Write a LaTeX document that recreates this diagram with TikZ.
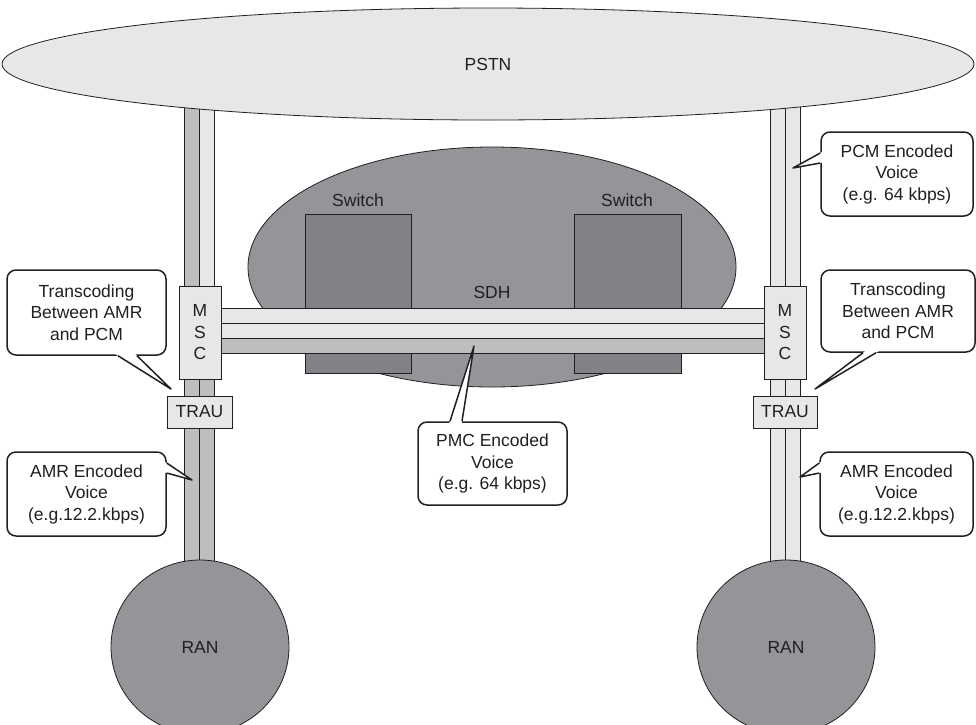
\documentclass[tikz,border=0pt]{standalone}
\usepackage{fontspec}
\setmainfont{Liberation Sans}
\usetikzlibrary{calc,shapes.geometric}
\definecolor{lite}{HTML}{E6E7E8}
\definecolor{mid}{HTML}{BCBEC0}
\definecolor{dk}{HTML}{939598}
\definecolor{sw}{HTML}{808285}
\definecolor{ink}{HTML}{231F20}
\newcommand\callwedge[3]{%
  \fill[white] ($(#3)!1.1!(#1)$) -- (#3) -- ($(#3)!1.1!(#2)$) -- cycle;
  \draw[wedge] (#1) -- (#3) -- (#2);}
\begin{document}
\begin{tikzpicture}[x=1pt,y=-1pt,
  font=\fontsize{17.5}{21.5}\selectfont, text=ink,
  strip/.style={draw=ink, line width=0.8pt},
  shape box/.style={draw=ink, line width=0.8pt, fill=lite, inner sep=0pt, align=center},
  blob/.style={ellipse, draw=ink, line width=0.8pt, inner sep=0pt},
  swbox/.style={draw=ink, line width=0.8pt, fill=sw, inner sep=0pt},
  callout/.style={draw=ink, line width=1.5pt, fill=white, rounded corners=9pt,
    align=center, inner sep=0pt},
  wedge/.style={draw=ink, line width=1.5pt, line join=round}]
\clip (0,0) rectangle (976,724);
\useasboundingbox (0,0) rectangle (976,724);

% vertical pipes
\draw[strip, fill=mid]  (184,90) rectangle (199,620);
\draw[strip, fill=lite] (199,90) rectangle (214,300);
\draw[strip, fill=mid]  (199,300) rectangle (214,620);
\draw[strip, fill=lite] (770,90) rectangle (785,620);
\draw[strip, fill=lite] (785,90) rectangle (800,620);

% PSTN
\node[blob, fill=lite, minimum width=972pt, minimum height=112pt] (pstn) at (488,64) {PSTN};

% RAN
\node[blob, fill=dk, minimum width=178pt, minimum height=174pt] (ranL) at (200,647) {RAN};
\node[blob, fill=dk, minimum width=178pt, minimum height=174pt] (ranR) at (786,647) {RAN};

% SDH cloud and switches
\node[blob, fill=dk, minimum width=488pt, minimum height=240pt] (sdh) at (492,267) {};
\node (sdhlab) at (492,292) {SDH};
\node[swbox, minimum width=106pt, minimum height=159pt] (swL) at (358,293.5) {};
\node[swbox, minimum width=107pt, minimum height=159pt] (swR) at (627.5,293.5) {};
\node (swLlab) at (358,200) {Switch};
\node (swRlab) at (627,200) {Switch};

% SDH pipe
\draw[strip, fill=lite] (221,308) rectangle (764,323);
\draw[strip, fill=lite] (221,323) rectangle (764,338);
\draw[strip, fill=mid]  (221,338) rectangle (764,353);

% MSC / TRAU
\node[shape box, minimum width=42pt, minimum height=93pt] (mscL) at (200,332.5) {M\\S\\C};
\node[shape box, minimum width=42pt, minimum height=93pt] (mscR) at (785,332.5) {M\\S\\C};
\node[shape box, minimum width=65pt, minimum height=32pt] (trauL) at (199.5,412) {TRAU};
\node[shape box, minimum width=64pt, minimum height=32pt] (trauR) at (785,412) {TRAU};

% callouts
\node[callout, minimum width=159pt, minimum height=85pt] (c1) at (86.5,312.5)
  {Transcoding\\Between AMR\\and PCM};
\node[callout, minimum width=159pt, minimum height=84pt] (c2) at (86.5,494)
  {AMR Encoded\\Voice\\(e.g.12.2.kbps)};
\node[callout, minimum width=152pt, minimum height=84pt] (c3) at (897,174)
  {PCM Encoded\\Voice\\(e.g. 64 kbps)};
\node[callout, minimum width=154pt, minimum height=82pt] (c4) at (898,311)
  {Transcoding\\Between AMR\\and PCM};
\node[callout, minimum width=153pt, minimum height=84pt] (c5) at (896.5,494)
  {AMR Encoded\\Voice\\(e.g.12.2.kbps)};
\node[callout, minimum width=149pt, minimum height=83pt] (c6) at (492.5,463.5)
  {PMC Encoded\\Voice\\(e.g. 64 kbps)};

% wedges
\coordinate (c1a) at ($(c1.south)+(31.5,0)$);
\coordinate (c1b) at ($(c1.south)+(50.5,0)$);
\coordinate (c1t) at (171,389);
\callwedge{c1a}{c1b}{c1t}

\coordinate (c2a) at ($(c2.east)+(0,-31)$);
\coordinate (c2b) at ($(c2.east)+(0,-21)$);
\coordinate (c2t) at (192,480);
\callwedge{c2a}{c2b}{c2t}

\coordinate (c3a) at ($(c3.west)+(0,-21)$);
\coordinate (c3b) at ($(c3.west)+(0,-11)$);
\coordinate (c3t) at (793,168);
\callwedge{c3a}{c3b}{c3t}

\coordinate (c4a) at ($(c4.south)+(-35,0)$);
\coordinate (c4b) at ($(c4.south)+(-22,0)$);
\coordinate (c4t) at (815,389);
\callwedge{c4a}{c4b}{c4t}

\coordinate (c5a) at ($(c5.west)+(0,-31)$);
\coordinate (c5b) at ($(c5.west)+(0,-21)$);
\coordinate (c5t) at (800,477);
\callwedge{c5a}{c5b}{c5t}

\coordinate (c6a) at ($(c6.north)+(-42.5,0)$);
\coordinate (c6b) at ($(c6.north)+(-30.5,0)$);
\coordinate (c6t) at (474,346);
\callwedge{c6a}{c6b}{c6t}
\end{tikzpicture}
\end{document}
